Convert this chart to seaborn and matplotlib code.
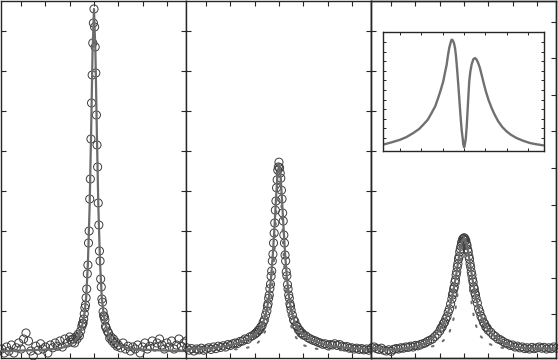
import numpy as np
import matplotlib
matplotlib.use("Agg")
import matplotlib.pyplot as plt
import seaborn as sns

# x grid of the measured points (same for the three panels)
x_pts = np.round(np.concatenate([
    np.arange(-3.8, -0.99, 0.1),
    np.arange(-0.95, -0.54, 0.05),
    np.arange(-0.5, 0.501, 0.025),
    np.arange(0.55, 0.96, 0.05),
    np.arange(1.0, 3.81, 0.1),
]), 3)

p1_pts = [0.05, -0.05, 0.1, 0.0, 0.15, -0.05, 0.08, 0.2, 0.05, 0.3, 0.45, 0.25, 0.0, -0.12, 0.12,
          0.02, 0.18, 0.05, 0.1, -0.05, 0.15, 0.08, 0.2, 0.12, 0.25, 0.1, 0.3, 0.2, 0.35,
          0.28, 0.22, 0.3, 0.2, 0.35, 0.3, 0.42, 0.38, 0.5,
          0.62, 0.68, 0.7, 0.8, 0.93, 1.08, 1.15, 1.33, 1.55, 1.93, 2.15, 2.7, 3.0, 3.8, 4.3, 5.3, 6.2, 6.9, 7.7, 8.2,
          8.55,
          8.1, 7.6, 6.95, 5.9, 5.15, 4.6, 3.7, 3.15, 2.5, 2.25, 1.8, 1.6, 1.3, 1.22, 0.98, 0.88, 0.85, 0.78, 0.62, 0.58,
          0.5, 0.45, 0.32, 0.35, 0.25, 0.3, 0.18, 0.22, 0.12,
          0.15, 0.08, 0.2, 0.05, 0.12, 0.0, 0.1, 0.05, 0.15, -0.05, 0.1, 0.2, 0.05, 0.12, 0.25,
          0.1, 0.2, 0.3, 0.15, 0.05, 0.2, 0.1, 0.25, 0.05, 0.15, 0.3, 0.12, 0.2, 0.25]

p2_pts = [0.08, 0.02, 0.06, 0.0, 0.05, 0.03, 0.07, 0.02, 0.05, 0.08, 0.04, 0.1, 0.06, 0.12, 0.09,
          0.13, 0.1, 0.16, 0.14, 0.18, 0.2, 0.19, 0.24, 0.25, 0.3, 0.29, 0.35, 0.38, 0.42,
          0.45, 0.47, 0.52, 0.53, 0.6, 0.63, 0.72, 0.78, 0.9,
          1.0, 1.12, 1.18, 1.32, 1.40, 1.56, 1.67, 1.87, 2.0, 2.25, 2.42, 2.7, 2.95, 3.2, 3.52, 3.75, 4.08, 4.28, 4.52, 4.6,
          4.72,
          4.58, 4.45, 4.32, 4.02, 3.8, 3.45, 3.25, 2.9, 2.7, 2.4, 2.25, 1.98, 1.88, 1.66, 1.55, 1.4, 1.32, 1.18, 1.12, 1.02,
          0.9, 0.78, 0.74, 0.64, 0.61, 0.53, 0.52, 0.45, 0.45,
          0.4, 0.38, 0.33, 0.3, 0.27, 0.25, 0.22, 0.2, 0.17, 0.18, 0.14, 0.16, 0.15, 0.18, 0.14,
          0.16, 0.12, 0.1, 0.11, 0.07, 0.08, 0.05, 0.07, 0.04, 0.06, 0.03, 0.05, 0.02, 0.06]

p3_pts = [0.08, 0.1, 0.06, 0.04, 0.07, 0.02, 0.0, 0.03, -0.01, 0.04, 0.06, 0.05, 0.08, 0.07, 0.1,
          0.09, 0.12, 0.1, 0.14, 0.13, 0.16, 0.18, 0.2, 0.24, 0.27, 0.3, 0.36, 0.42, 0.5,
          0.57, 0.6, 0.68, 0.72, 0.8, 0.86, 0.97, 1.05, 1.18,
          1.3, 1.4, 1.45, 1.55, 1.6, 1.72, 1.78, 1.9, 1.98, 2.1, 2.18, 2.3, 2.36, 2.48, 2.55, 2.62, 2.7, 2.74, 2.8, 2.8,
          2.83,
          2.82, 2.78, 2.76, 2.68, 2.64, 2.54, 2.48, 2.37, 2.3, 2.18, 2.1, 1.98, 1.9, 1.79, 1.72, 1.6, 1.55, 1.45, 1.4, 1.31,
          1.2, 1.06, 0.98, 0.87, 0.81, 0.72, 0.68, 0.6, 0.58,
          0.52, 0.47, 0.4, 0.36, 0.3, 0.28, 0.24, 0.2, 0.18, 0.14, 0.15, 0.1, 0.12, 0.08, 0.1,
          0.06, 0.08, 0.05, 0.09, 0.06, 0.08, 0.1, 0.07, 0.09, 0.05, 0.08, 0.06, 0.1, 0.07]

# fitted curves, read at these x values
x_fit = [-3.8, -3.4, -3.0, -2.6, -2.2, -1.9, -1.6, -1.4, -1.2, -1.0, -0.85, -0.7, -0.6, -0.5,
         -0.4, -0.32, -0.25, -0.18, -0.12, -0.06, 0.0, 0.06, 0.12, 0.18, 0.25, 0.32, 0.4,
         0.5, 0.6, 0.7, 0.85, 1.0, 1.2, 1.4, 1.6, 1.9, 2.2, 2.6, 3.0, 3.4, 3.8]

p1_fit = [0.0, 0.0, 0.01, 0.02, 0.03, 0.04, 0.05, 0.07, 0.1, 0.15, 0.21, 0.31, 0.42, 0.6,
          0.9, 1.35, 2.2, 3.6, 5.4, 7.45, 8.55, 7.45, 5.4, 3.6, 2.2, 1.35, 0.9,
          0.6, 0.42, 0.31, 0.21, 0.15, 0.1, 0.07, 0.05, 0.04, 0.03, 0.02, 0.01, 0.0, 0.0]
p2_fit = [0.05, 0.06, 0.07, 0.09, 0.12, 0.16, 0.22, 0.27, 0.33, 0.42, 0.5, 0.65, 0.8, 1.03,
          1.41, 1.88, 2.44, 3.16, 3.84, 4.42, 4.65, 4.42, 3.84, 3.16, 2.44, 1.88, 1.41,
          1.03, 0.8, 0.65, 0.5, 0.42, 0.33, 0.27, 0.22, 0.16, 0.12, 0.09, 0.07, 0.06, 0.05]
p3_fit = [0.07, 0.06, 0.03, 0.05, 0.09, 0.13, 0.2, 0.29, 0.4, 0.53, 0.67, 0.88, 1.07, 1.32,
          1.62, 1.91, 2.19, 2.45, 2.64, 2.77, 2.82, 2.77, 2.64, 2.45, 2.19, 1.91, 1.62,
          1.32, 1.07, 0.88, 0.67, 0.53, 0.4, 0.3, 0.22, 0.14, 0.1, 0.07, 0.06, 0.06, 0.06]
p2_narrow = [0.01, 0.01, 0.02, 0.02, 0.03, 0.04, 0.05, 0.07, 0.1, 0.15, 0.22, 0.34, 0.45, 0.63,
             0.92, 1.29, 1.8, 2.54, 3.38, 4.22, 4.6, 4.22, 3.38, 2.54, 1.8, 1.29, 0.92,
             0.63, 0.45, 0.34, 0.22, 0.15, 0.1, 0.07, 0.05, 0.04, 0.03, 0.02, 0.02, 0.01, 0.01]
p3_narrow = [0.01, 0.015, 0.02, 0.03, 0.04, 0.055, 0.078, 0.1, 0.135, 0.19, 0.26, 0.36, 0.47, 0.63,
             0.88, 1.17, 1.51, 1.94, 2.34, 2.67, 2.8, 2.67, 2.34, 1.94, 1.51, 1.17, 0.88,
             0.63, 0.47, 0.36, 0.26, 0.19, 0.135, 0.1, 0.078, 0.055, 0.04, 0.03, 0.02, 0.015, 0.01]

# inset curve
inset_x = [-3.82, -3.4, -3.0, -2.7, -2.38, -2.1, -1.91, -1.7, -1.52, -1.35, -1.21, -1.09,
           -0.97, -0.89, -0.81, -0.75, -0.69, -0.63, -0.58, -0.53, -0.47, -0.42, -0.38, -0.34,
           -0.30, -0.26, -0.22, -0.18, -0.14, -0.10, -0.06, -0.03, 0.01, 0.04, 0.09, 0.13,
           0.17, 0.21, 0.25, 0.30, 0.36, 0.44, 0.52, 0.6, 0.67, 0.75, 0.83, 0.93, 1.03, 1.15,
           1.30, 1.45, 1.61, 1.8, 2.0, 2.2, 2.47, 2.8, 3.10, 3.4, 3.72]
inset_y = [0.30, 0.55, 0.82, 1.1, 1.52, 1.95, 2.39, 2.9, 3.60, 4.3, 5.17, 6.0,
           6.91, 7.8, 8.64, 9.6, 10.38, 10.9, 11.24, 11.2, 10.90, 10.4, 9.68, 8.7,
           7.59, 6.4, 5.17, 3.9, 2.74, 1.7, 1.00, 0.35, 0.03, 0.3, 1.00, 2.2,
           3.78, 5.4, 6.91, 7.9, 8.64, 9.2, 9.33, 9.15, 8.81, 8.3, 7.59, 6.7, 5.86, 5.0,
           4.13, 3.4, 2.74, 2.15, 1.70, 1.35, 1.00, 0.7, 0.48, 0.35, 0.24]

sns.set_style("ticks")
plt.rcParams["axes.linewidth"] = 1.0

pt_color = "#3c3c3c"
line_color = "#6b6b6b"

fig = plt.figure(figsize=(5.58, 3.6), dpi=100)
lefts = [1 / 558, 186 / 558, 371 / 558]
w = 185 / 558
bottom, h = 2 / 360, 357 / 360

panels = [(p1_pts, p1_fit, None), (p2_pts, p2_fit, p2_narrow), (p3_pts, p3_fit, p3_narrow)]
axes = []
for left, (pts, fit, narrow) in zip(lefts, panels):
    ax = fig.add_axes([left, bottom, w, h])
    sns.scatterplot(x=x_pts, y=pts, ax=ax, marker="o", s=34, color=pt_color,
                    facecolors="none", edgecolor=pt_color, linewidth=0.7,
                    clip_on=False, zorder=2)
    if narrow is not None:
        sns.lineplot(x=x_fit, y=narrow, ax=ax, color=line_color, lw=1.5,
                     linestyle=(0, (0.8, 5)), dash_capstyle="round", estimator=None, zorder=3)
    sns.lineplot(x=x_fit, y=fit, ax=ax, color=line_color, lw=1.6, estimator=None,
                 solid_joinstyle="round", zorder=4)
    ax.set_xlim(-3.83, 3.79)
    ax.set_ylim(-0.175, 8.75)
    ax.set_xticks(range(-3, 4))
    ax.set_yticks(range(1, 9))
    ax.tick_params(direction="in", top=True, right=True, labelbottom=False,
                   labelleft=False, length=3.5, width=0.8)
    ax.set_xlabel("")
    ax.set_ylabel("")
    axes.append(ax)

# third panel has its own scale on the right
axes[2].tick_params(right=False)
tw = axes[2].twinx()
tw.set_ylim(-0.19, 9.56)
tw.set_yticks(range(1, 10))
tw.tick_params(direction="in", labelright=False, length=3.5, width=0.8)

ins = fig.add_axes([383 / 558, (360 - 151) / 360, 161 / 558, 119 / 360])
sns.lineplot(x=inset_x, y=inset_y, ax=ins, color="#707070", lw=1.7, estimator=None,
             solid_joinstyle="round")
ins.set_xlim(-3.8, 3.76)
ins.set_ylim(-0.35, 12.04)
ins.set_xticks(range(-3, 4))
ins.set_yticks(range(1, 12))
ins.tick_params(direction="in", top=True, right=True, labelbottom=False,
                labelleft=False, length=2.5, width=0.7)
ins.set_xlabel("")
ins.set_ylabel("")

fig.savefig("out.png", dpi=100)
